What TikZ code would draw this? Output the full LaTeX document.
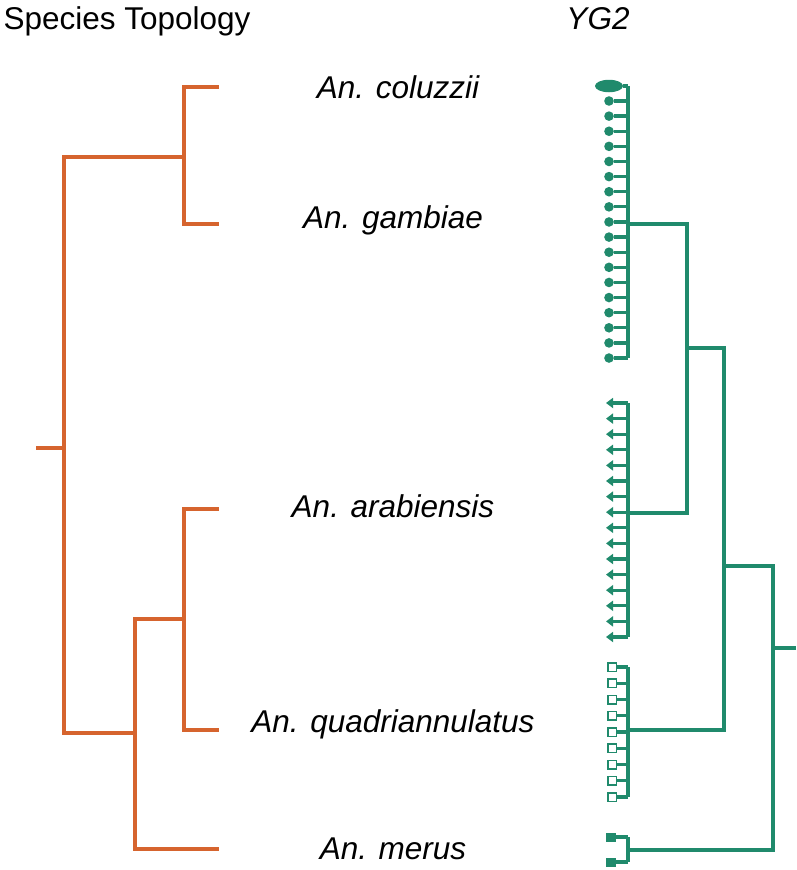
\documentclass[tikz,border=0pt]{standalone}
\usepackage{fontspec}
\setmainfont{Liberation Sans}
\usetikzlibrary{arrows.meta,shapes.geometric}
\definecolor{sporange}{RGB}{214,100,46}
\definecolor{genegreen}{RGB}{32,138,108}

\begin{document}
\begin{tikzpicture}[x=1pt, y=-1pt, line join=miter, font=\fontsize{31.5}{38}\selectfont,
	sp/.style={draw=sporange, line width=3.8pt},
	gt/.style={draw=genegreen, line width=4.4pt},
	twig/.style={draw=genegreen, line width=3.3pt},
	lab/.style={anchor=base, font=\fontsize{31.5}{38}\selectfont\itshape},
	dot/.style={circle, fill=genegreen, inner sep=0pt, minimum size=9.6pt},
	opensq/.style={rectangle, draw=genegreen, fill=white, line width=1.5pt, inner sep=0pt, minimum size=8.5pt},
	fullsq/.style={rectangle, fill=genegreen, inner sep=0pt, minimum width=9.5pt, minimum height=9pt}]
	
	\useasboundingbox (0,0) rectangle (796,870);
	
	% Tiêu đề
	\node[anchor=base west] (sptitle) at (0,29) {Species Topology};
	\node[lab] (gtitle) at (598,29) {YG2};
	
	% Tên các loài
	\node[lab] (lcol) at (398,98) {An. coluzzii};
	\node[lab] (lgam) at (393,228) {An. gambiae};
	\node[lab] (lara) at (393,517) {An. arabiensis};
	\node[lab] (lqua) at (393,732) {An. quadriannulatus};
	\node[lab] (lmer) at (393,859) {An. merus};
	
	% Các đỉnh cây loài
	\coordinate (colE) at (219,87);   \coordinate (colJ) at (184,87);
	\coordinate (gamE) at (219,224);  \coordinate (gamJ) at (184,224);
	\coordinate (araE) at (219,509);  \coordinate (araJ) at (184,509);
	\coordinate (quaE) at (219,730);  \coordinate (quaJ) at (184,730);
	\coordinate (merE) at (219,849);  \coordinate (merJ) at (135,849);
	\coordinate (n1) at (184,157);    \coordinate (n1L) at (64,157);
	\coordinate (n2) at (184,619);    \coordinate (n2L) at (135,619);
	\coordinate (n3) at (135,733);    \coordinate (n3L) at (64,733);
	\coordinate (root) at (64,448);   \coordinate (rootL) at (36,448);
	
	% Vẽ cây loài
	\draw[sp] (colE) -- (colJ) -- (gamJ) -- (gamE);
	\draw[sp] (araE) -- (araJ) -- (quaJ) -- (quaE);
	\draw[sp] (n1) -- (n1L) -- (n3L) -- (n3);
	\draw[sp] (n2) -- (n2L) -- (merJ) -- (merE);
	\draw[sp] (root) -- (rootL);
	
	% Nhóm 1: chấm tròn
	\node[ellipse, fill=genegreen, inner sep=0pt, minimum width=28pt, minimum height=12.5pt] (ell) at (609,86) {};
	\coordinate (top1) at (628,86);
	\coordinate (bot1) at (628,358);
	\draw[twig] (ell) -- (top1);
	\foreach \i [evaluate=\i as \yy using 101+(\i-1)*15.12] in {1,...,18} {
		\node[dot] (d\i) at (609,\yy) {};
		\coordinate (s\i) at (628,\yy);
		\draw[twig] (d\i) -- (s\i);
	}
	\draw[gt] (top1) -- (bot1);
	
	% Nhóm 2: mũi tên
	\coordinate (top2) at (628,403);
	\coordinate (bot2) at (628,637);
	\foreach \i [evaluate=\i as \yy using 403+(\i-1)*15.6] in {1,...,16} {
		\coordinate (a\i) at (606,\yy);
		\coordinate (t\i) at (628,\yy);
		\draw[twig, -{Triangle[length=7pt, width=10pt]}] (t\i) -- (a\i);
	}
	\draw[gt] (top2) -- (bot2);
	
	% Nhóm 3: ô vuông rỗng
	\coordinate (top3) at (628,667);
	\coordinate (bot3) at (628,797);
	\foreach \i [evaluate=\i as \yy using 667+(\i-1)*16.25] in {1,...,9} {
		\node[opensq] (q\i) at (612,\yy) {};
		\coordinate (r\i) at (628,\yy);
		\draw[twig] (q\i) -- (r\i);
	}
	\draw[gt] (top3) -- (bot3);
	
	% Nhóm 4: ô vuông đặc
	\node[fullsq] (m1) at (611,837) {};
	\node[fullsq] (m2) at (611,862) {};
	\coordinate (top4) at (628,837);
	\coordinate (bot4) at (628,862);
	\draw[twig] (m1) -- (top4);
	\draw[twig] (m2) -- (bot4);
	\draw[gt] (top4) -- (bot4);
	
	% Các nhánh cây gen
	\coordinate (g1) at (628,224);  \coordinate (g1R) at (687,224);
	\coordinate (g2) at (628,513);  \coordinate (g2R) at (687,513);
	\coordinate (h1) at (687,348);  \coordinate (h1R) at (724,348);
	\coordinate (g3) at (628,730);  \coordinate (g3R) at (724,730);
	\coordinate (h2) at (724,566);  \coordinate (h2R) at (773,566);
	\coordinate (g4) at (628,850);  \coordinate (g4R) at (773,850);
	\coordinate (groot) at (773,648); \coordinate (grootR) at (796,648);
	
	\draw[gt] (g1) -- (g1R) -- (g2R) -- (g2);
	\draw[gt] (h1) -- (h1R) -- (g3R) -- (g3);
	\draw[gt] (h2) -- (h2R) -- (g4R) -- (g4);
	\draw[gt] (groot) -- (grootR);
\end{tikzpicture}
\end{document}
